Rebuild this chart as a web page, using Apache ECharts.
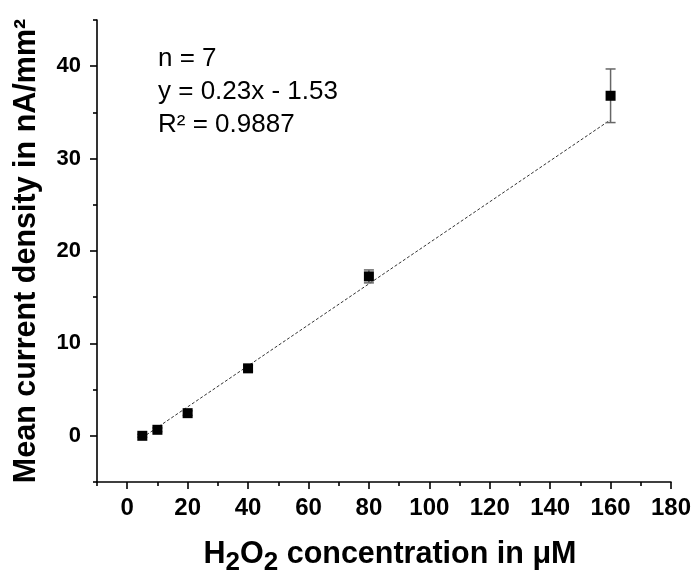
<!DOCTYPE html>
<html>
<head>
<meta charset="utf-8">
<script src="https://cdn.jsdelivr.net/npm/echarts@6/dist/echarts.min.js"></script>
<style>html,body{margin:0;padding:0;background:#fff}#c{width:696px;height:570px}</style>
</head>
<body>
<div id="c"></div>
<script>
// Data
const concentrations = [5, 10, 20, 40, 80, 160];
const meanCurrent = [0.0, 0.65, 2.45, 7.3, 17.25, 36.8];
const errCurrent = [0.15, 0.2, 0.25, 0.3, 0.7, 2.9];
const fitX = [5, 160];
const fitY = [-0.2, 34.2];
const xMajorTicks = [0, 20, 40, 60, 80, 100, 120, 140, 160, 180];
const xMinorTicks = [-10, 10, 30, 50, 70, 90, 110, 130, 150, 170];
const yMajorTicks = [0, 10, 20, 30, 40];
const yMinorTicks = [-5, 5, 15, 25, 35, 45];
const annotationLines = ['n = 7', 'y = 0.23x - 1.53', 'R² = 0.9887'];

const font = 'Arial, "Liberation Sans", sans-serif';
const chart = echarts.init(document.getElementById('c'));

const pts = concentrations.map((x, i) => [x, meanCurrent[i]]);
const errs = concentrations.map((x, i) => [x, meanCurrent[i] - errCurrent[i], meanCurrent[i] + errCurrent[i]]);
const fit = fitX.map((x, i) => [x, fitY[i]]);

function tickAxis(min, max, pos, values, len) {
  return {
    type: 'value', min: min, max: max, position: pos,
    axisLine: {show: false, onZero: false},
    axisTick: {show: true, inside: false, length: len, customValues: values, lineStyle: {color: '#000', width: 1.6}},
    axisLabel: {show: false},
    splitLine: {show: false}
  };
}

chart.setOption({
  animation: false,
  grid: {left: 97, right: 25, top: 20, bottom: 88, containLabel: false, outerBoundsMode: 'none'},
  xAxis: [{
    type: 'value', min: -10, max: 180, position: 'bottom',
    name: '{b|H}{s|2}{b|O}{s|2}{b| concentration in μM}',
    nameLocation: 'middle', nameGap: 52,
    nameTextStyle: {
      fontFamily: font, color: '#000', padding: [0, 0, 0, 12],
      rich: {
        b: {fontFamily: font, fontSize: 30.5, fontWeight: 'bold', color: '#000'},
        s: {fontFamily: font, fontSize: 26, fontWeight: 'bold', color: '#000', padding: [16, 0, 0, 0]}
      }
    },
    axisLine: {show: true, onZero: false, lineStyle: {color: '#000', width: 1.6}},
    axisTick: {show: false},
    axisLabel: {customValues: xMajorTicks, margin: 14, fontFamily: font, fontSize: 24, fontWeight: 'bold', color: '#000'},
    splitLine: {show: false}
  },
  tickAxis(-10, 180, 'bottom', xMajorTicks, 7),
  tickAxis(-10, 180, 'bottom', xMinorTicks, 4)],
  yAxis: [{
    type: 'value', min: -5, max: 45, position: 'left',
    name: 'Mean current density in nA/mm²',
    nameLocation: 'middle', nameGap: 55,
    nameTextStyle: {fontFamily: font, fontSize: 30.5, fontWeight: 'bold', color: '#000'},
    axisLine: {show: true, onZero: false, lineStyle: {color: '#000', width: 1.6}},
    axisTick: {show: false},
    axisLabel: {customValues: yMajorTicks, margin: 16, fontFamily: font, fontSize: 22, fontWeight: 'bold', color: '#000'},
    splitLine: {show: false}
  },
  tickAxis(-5, 45, 'left', yMajorTicks, 7),
  tickAxis(-5, 45, 'left', yMinorTicks, 4)],
  graphic: [{
    type: 'text', left: 158, top: 42,
    style: {text: annotationLines.join('\n'), font: '26px ' + font, lineHeight: 33, fill: '#000'}
  }],
  series: [{
    type: 'line', data: fit, symbol: 'none', silent: true,
    lineStyle: {color: '#333', width: 1, type: [3, 2]}, z: 1
  }, {
    type: 'custom', data: errs, z: 2,
    renderItem: function (params, api) {
      const x = api.value(0);
      const lo = api.coord([x, api.value(1)]);
      const hi = api.coord([x, api.value(2)]);
      const w = 5;
      const st = {stroke: '#666', lineWidth: 1.5};
      return {type: 'group', children: [
        {type: 'line', shape: {x1: lo[0], y1: lo[1], x2: hi[0], y2: hi[1]}, style: st},
        {type: 'line', shape: {x1: lo[0] - w, y1: lo[1], x2: lo[0] + w, y2: lo[1]}, style: st},
        {type: 'line', shape: {x1: hi[0] - w, y1: hi[1], x2: hi[0] + w, y2: hi[1]}, style: st}
      ]};
    }
  }, {
    type: 'scatter', data: pts, symbol: 'rect', symbolSize: 10, z: 3,
    itemStyle: {color: '#000', opacity: 1}
  }]
});
</script>
</body>
</html>
